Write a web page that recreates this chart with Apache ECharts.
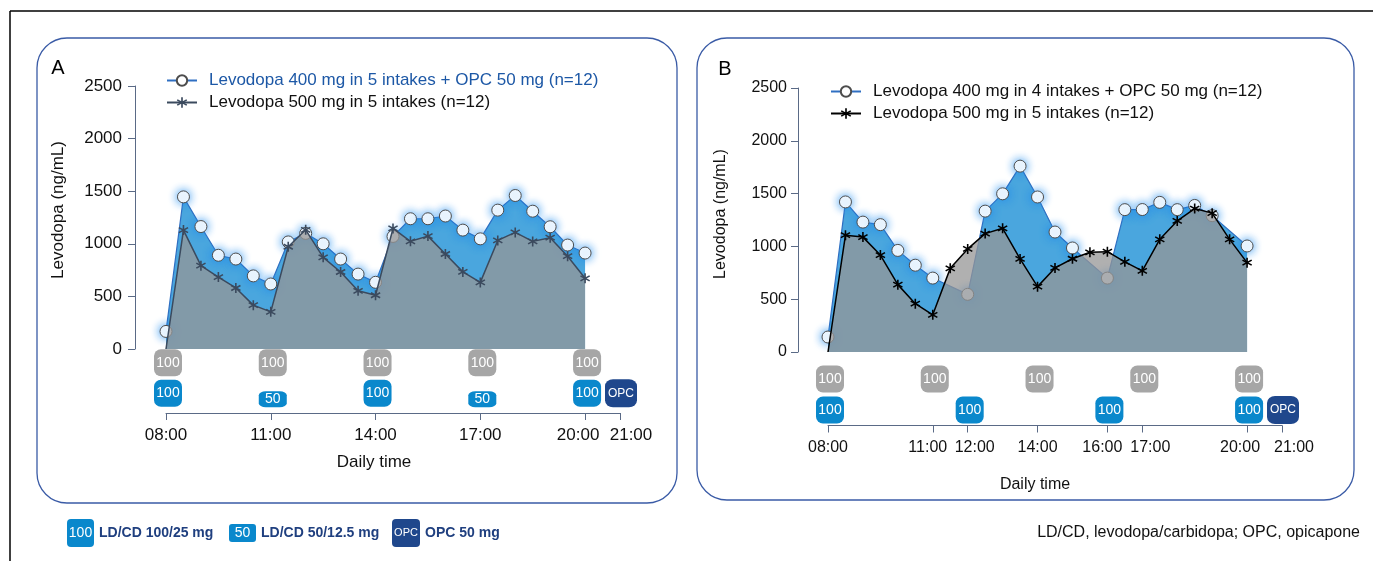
<!DOCTYPE html>
<html><head><meta charset="utf-8">
<script src="https://cdn.jsdelivr.net/npm/echarts@6/dist/echarts.min.js"></script>
<style>html,body{margin:0;padding:0;background:#fff}#c{width:1373px;height:561px}</style>
</head><body><div id="c"></div>
<script>
// ---------- DATA ----------
const timesA = [8,8.5,9,9.5,10,10.5,11,11.5,12,12.5,13,13.5,14,14.5,15,15.5,16,16.5,17,17.5,18,18.5,19,19.5,20];
const opcA = [167,1446,1164,891,855,695,618,1018,1099,1000,855,712,634,1070,1238,1238,1264,1130,1047,1320,1459,1310,1162,988,912];
const refA = [0,1130,792,684,580,417,353,972,1133,871,732,553,511,1146,1024,1073,903,733,633,1032,1108,1023,1058,882,672];

const timesBopc = [8,8.5,9,9.5,10,10.5,11,12,12.5,13,13.5,14,14.5,15,16,16.5,17,17.5,18,18.5,19,20];
const opcB = [142,1421,1230,1206,962,822,700,546,1334,1498,1760,1468,1136,985,700,1348,1349,1417,1348,1388,1291,1004];
const timesBref = [8,8.5,9,9.5,10,10.5,11,11.5,12,12.5,13,13.5,14,14.5,15,15.5,16,16.5,17,17.5,18,18.5,19,19.5,20];
const refB = [0,1106,1088,918,638,458,352,792,976,1121,1171,881,619,796,883,944,950,854,769,1067,1241,1358,1315,1067,846];

const yTicks = [0,500,1000,1500,2000,2500];
const xTicksA = [8,11,14,17,20,21];
const xTicksB = [8,11,12,14,16,17,20,21];

const doseRows = ['LD/CD', 'LD/CD + OPC'];
const ldTimesA = [8,11,14,17,20];   const ldDosesA = [100,100,100,100,100];
const opcRegTimesA = [8,11,14,17,20]; const opcRegDosesA = [100,50,100,50,100];
const ldTimesB = [8,11,14,17,20];   const ldDosesB = [100,100,100,100,100];
const opcRegTimesB = [8,12,16,20];  const opcRegDosesB = [100,100,100,100];
const opcTimeA = [21]; const opcTimeB = [21];

const nameOpcA = 'Levodopa 400 mg in 5 intakes + OPC 50 mg (n=12)';
const nameRefA = 'Levodopa 500 mg in 5 intakes (n=12)';
const nameOpcB = 'Levodopa 400 mg in 4 intakes + OPC 50 mg (n=12)';
const nameRefB = 'Levodopa 500 mg in 5 intakes (n=12) ';

// ---------- STYLE ----------
const FONT = '"Liberation Sans", Arial, Helvetica, sans-serif';
const AX = '#5a6a86';
const STAR = 'path://M-0.9,-6L0.9,-6L0.9,6L-0.9,6ZM4.746,-3.779L5.646,-2.221L-4.746,3.779L-5.646,2.221ZM5.646,2.221L4.746,3.779L-5.646,-2.221L-4.746,-3.779Z';
const BLUE_AREA = '#4aa6de';
const GRAY_AREA = 'rgba(150,150,150,0.75)';
const BOX_GRAY = '#a6a6a6', BOX_BLUE = '#0a88cc', BOX_NAVY = '#1f478c';

const chart = echarts.init(document.getElementById('c'));

function pairs(t, v) { return t.map((x, i) => [x, v[i]]); }
function refData(t, v) { return t.map((x, i) => i === 0 ? {value: [x, v[i]], symbol: 'none'} : [x, v[i]]); }
function hhmm(v) { return (v < 10 ? '0' : '') + v + ':00'; }

function xLabel(shifts, size) {
  const rich = {};
  Object.keys(shifts).forEach(k => {
    const s = shifts[k];
    rich['s' + k] = {fontSize: size, fontFamily: FONT, color: '#111',
      padding: s < 0 ? [0, -2 * s, 0, 0] : [0, 0, 0, 2 * s]};
  });
  return {
    customValues: null, fontSize: size, fontFamily: FONT, color: '#111',
    formatter: v => shifts[v] ? '{s' + v + '|' + hhmm(v) + '}' : hhmm(v), rich
  };
}

function mainY(grid, off, size, margin) {
  return {type: 'value', gridIndex: grid, min: 0, max: 2500, interval: 500, offset: off,
    axisLine: {show: true, lineStyle: {color: AX, width: 1}},
    axisTick: {show: true, length: 7, lineStyle: {color: AX}},
    splitLine: {show: false},
    axisLabel: {fontSize: size, fontFamily: FONT, color: '#111', margin: margin,
      customValues: yTicks, formatter: v => String(v)}};
}
function doseY(grid) {
  return {type: 'category', gridIndex: grid, data: doseRows, inverse: true, show: false};
}
function hiddenX(grid) { return {type: 'value', gridIndex: grid, min: 8, max: 21, show: false}; }
function visX(grid, ticks, shifts, size, off) {
  const lab = xLabel(shifts, size);
  lab.customValues = ticks; lab.margin = 14;
  return {type: 'value', gridIndex: grid, min: 8, max: 21, offset: off, position: 'bottom',
    axisLine: {show: true, lineStyle: {color: AX, width: 1}},
    axisTick: {show: true, customValues: ticks, length: 7, lineStyle: {color: AX}},
    splitLine: {show: false}, axisLabel: lab};
}

function opcSeries(name, xi, t, v, size) {
  return {type: 'line', name, xAxisIndex: xi, yAxisIndex: xi, z: 2,
    data: pairs(t, v), symbol: 'circle', symbolSize: size, showAllSymbol: true,
    itemStyle: {color: '#fff', borderColor: '#4d4d4d', borderWidth: 1,
      shadowColor: 'rgba(30,140,240,0.95)', shadowBlur: 10},
    lineStyle: {color: '#2f6fc2', width: 1.2},
    areaStyle: {color: BLUE_AREA, opacity: 1}};
}
function refSeries(name, xi, t, v, col) {
  return {type: 'line', name, xAxisIndex: xi, yAxisIndex: xi, z: 3,
    data: refData(t, v), symbol: STAR, symbolSize: 10, showAllSymbol: true,
    itemStyle: {color: col},
    lineStyle: {color: col, width: 1.5},
    areaStyle: {color: GRAY_AREA, opacity: 1}};
}
function boxSeries(xi, row, t, d, color) {
  return {type: 'scatter', xAxisIndex: xi, yAxisIndex: xi, z: 2, silent: true,
    data: t.map((x, i) => {
      const small = d[i] === 50;
      return {value: [x, row, d[i]],
        symbolSize: small ? [28, 16] : (d[i] === 'OPC' ? [32, 28] : [28, 27]),
        symbolOffset: small ? [2, 6] : [2, 0]};
    }),
    symbol: 'roundRect',
    itemStyle: {color: color, opacity: 1},
    label: {show: true, position: 'inside', color: '#fff', fontFamily: FONT,
      fontSize: 14, formatter: p => String(p.value[2])}};
}
function opcBox(xi, t) {
  const s = boxSeries(xi, doseRows[1], t, t.map(() => 'OPC'), BOX_NAVY);
  s.label.fontSize = 12;
  s.data.forEach(d => { d.symbolOffset = [1, 0]; });
  return s;
}

const option = {
  animation: false,
  textStyle: {fontFamily: FONT},
  grid: [
    {left: 166, top: 86, width: 454, height: 263},
    {left: 166, top: 347.5, width: 454, height: 61},
    {left: 828, top: 88, width: 454, height: 264},
    {left: 828, top: 363.5, width: 454, height: 62}
  ],
  xAxis: [hiddenX(0), visX(1, xTicksA, {20: -7, 21: 11}, 17, 4.5), hiddenX(2),
          visX(3, xTicksB, {11: -5, 12: 7, 16: -5, 17: 8, 20: -7, 21: 12}, 16, 0)],
  yAxis: [mainY(0, 31, 17, 13), doseY(1), mainY(2, 30, 16, 11), doseY(3)],
  legend: [
    {orient: 'vertical', left: 161, top: 67, itemWidth: 30, itemHeight: 13, itemGap: 5,
     textStyle: {fontSize: 17, fontFamily: FONT, color: '#111', padding: [0, 0, 0, 7]},
     selectedMode: false,
     data: [{name: nameOpcA, textStyle: {color: '#1d58a6'}}, {name: nameRefA}]},
    {orient: 'vertical', left: 825, top: 78, itemWidth: 30, itemHeight: 13, itemGap: 5,
     textStyle: {fontSize: 17, fontFamily: FONT, color: '#111', padding: [0, 0, 0, 7]},
     selectedMode: false,
     data: [{name: nameOpcB}, {name: nameRefB}]}
  ],
  series: [
    opcSeries(nameOpcA, 0, timesA, opcA, 12),
    refSeries(nameRefA, 0, timesA, refA, '#3b4a5e'),
    opcSeries(nameOpcB, 2, timesBopc, opcB, 12),
    refSeries(nameRefB, 2, timesBref, refB, '#000'),
    boxSeries(1, doseRows[0], ldTimesA, ldDosesA, BOX_GRAY),
    boxSeries(1, doseRows[1], opcRegTimesA, opcRegDosesA, BOX_BLUE),
    opcBox(1, opcTimeA),
    boxSeries(3, doseRows[0], ldTimesB, ldDosesB, BOX_GRAY),
    boxSeries(3, doseRows[1], opcRegTimesB, opcRegDosesB, BOX_BLUE),
    opcBox(3, opcTimeB)
  ],
  graphic: [
    {type: 'line', shape: {x1: 10, y1: 11, x2: 1373, y2: 11}, style: {stroke: '#000', lineWidth: 1.5}, silent: true},
    {type: 'line', shape: {x1: 10, y1: 11, x2: 10, y2: 561}, style: {stroke: '#000', lineWidth: 1.5}, silent: true},
    {type: 'rect', shape: {x: 37, y: 38, width: 640, height: 465, r: 30}, style: {fill: 'none', stroke: '#3a5ba6', lineWidth: 1.3}, silent: true, z: -1},
    {type: 'rect', shape: {x: 697, y: 38, width: 657, height: 462, r: 30}, style: {fill: 'none', stroke: '#3a5ba6', lineWidth: 1.3}, silent: true, z: -1},
    {type: 'text', x: 58, y: 68, style: {text: 'A', font: '20px ' + FONT, fill: '#000', textAlign: 'center', textVerticalAlign: 'middle'}},
    {type: 'text', x: 725, y: 69, style: {text: 'B', font: '20px ' + FONT, fill: '#000', textAlign: 'center', textVerticalAlign: 'middle'}},
    {type: 'text', x: 58, y: 210, rotation: Math.PI / 2, style: {text: 'Levodopa (ng/mL)', font: '17px ' + FONT, fill: '#111', textAlign: 'center', textVerticalAlign: 'middle'}},
    {type: 'text', x: 721, y: 214, rotation: Math.PI / 2, style: {text: 'Levodopa (ng/mL)', font: '16px ' + FONT, fill: '#111', textAlign: 'center', textVerticalAlign: 'middle'}},
    {type: 'text', x: 374, y: 462, style: {text: 'Daily time', font: '17px ' + FONT, fill: '#111', textAlign: 'center', textVerticalAlign: 'middle'}},
    {type: 'text', x: 1035, y: 485, style: {text: 'Daily time', font: '16px ' + FONT, fill: '#111', textAlign: 'center', textVerticalAlign: 'middle'}},
    // bottom key
    {type: 'rect', shape: {x: 67, y: 519, width: 27, height: 28, r: 4}, style: {fill: BOX_BLUE}},
    {type: 'text', x: 80.5, y: 533, style: {text: '100', font: '14px ' + FONT, fill: '#fff', textAlign: 'center', textVerticalAlign: 'middle'}},
    {type: 'text', x: 99, y: 533, style: {text: 'LD/CD 100/25 mg', font: 'bold 14px ' + FONT, fill: '#1f3f7f', textVerticalAlign: 'middle'}},
    {type: 'rect', shape: {x: 229, y: 524, width: 27, height: 18, r: 3}, style: {fill: BOX_BLUE}},
    {type: 'text', x: 242.5, y: 533, style: {text: '50', font: '14px ' + FONT, fill: '#fff', textAlign: 'center', textVerticalAlign: 'middle'}},
    {type: 'text', x: 261, y: 533, style: {text: 'LD/CD 50/12.5 mg', font: 'bold 14px ' + FONT, fill: '#1f3f7f', textVerticalAlign: 'middle'}},
    {type: 'rect', shape: {x: 392, y: 519, width: 28, height: 28, r: 4}, style: {fill: BOX_NAVY}},
    {type: 'text', x: 406, y: 533, style: {text: 'OPC', font: '11px ' + FONT, fill: '#fff', textAlign: 'center', textVerticalAlign: 'middle'}},
    {type: 'text', x: 425, y: 533, style: {text: 'OPC 50 mg', font: 'bold 14px ' + FONT, fill: '#1f3f7f', textVerticalAlign: 'middle'}},
    {type: 'text', x: 1360, y: 533, style: {text: 'LD/CD, levodopa/carbidopa; OPC, opicapone', font: '16px ' + FONT, fill: '#111', textAlign: 'right', textVerticalAlign: 'middle'}}
  ]
};
chart.setOption(option);
</script></body></html>
